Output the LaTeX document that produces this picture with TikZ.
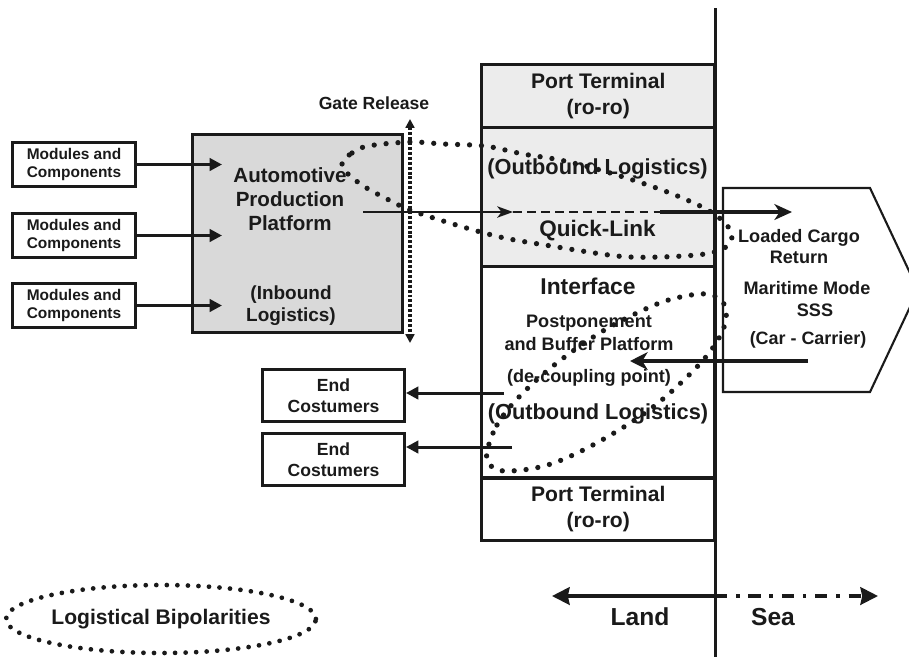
\documentclass[tikz,border=0pt]{standalone}
\usepackage{fontspec}
\setmainfont{Liberation Sans}
\usetikzlibrary{arrows.meta,positioning,shapes.geometric}
\definecolor{platgray}{HTML}{D9D9D9}
\definecolor{portgray}{HTML}{ECECEC}
\definecolor{ink}{HTML}{1A1A1A}

\begin{document}
\begin{tikzpicture}[x=0.02cm,y=-0.02cm,
  modbox/.style={draw=ink,line width=1.7pt,minimum width=2.46cm,minimum height=0.88cm,
    inner sep=0pt,align=center,text=ink,font=\fontsize{8.8}{10.2}\selectfont\bfseries},
  endbox/.style={draw=ink,line width=1.7pt,minimum width=2.84cm,minimum height=1.04cm,
    inner sep=0pt,align=center,text=ink,font=\fontsize{10}{11.7}\selectfont\bfseries},
  colbox/.style={draw=ink,line width=1.7pt,minimum width=4.67cm,inner sep=0pt,outer sep=0pt,
    align=center,text=ink,font=\fontsize{12}{14.6}\selectfont\bfseries},
  txt/.style={inner sep=0pt,align=center,text=ink,font=\bfseries},
  arr/.style={-{Triangle[length=7pt,width=7pt]},line width=1.7pt,ink},
  dotloop/.style={line width=3pt,line cap=round,dash pattern=on 0pt off 6.8pt,ink}]

\useasboundingbox (0,0) rectangle (909,657);
\clip (0,0) rectangle (909,657);

% inbound side
\node[modbox] (mod1) at (74,164.5) {Modules and\\Components};
\node[modbox] (mod2) at (74,235.5) {Modules and\\Components};
\node[modbox] (mod3) at (74,305.5) {Modules and\\Components};

\node[draw=ink,line width=1.7pt,fill=platgray,minimum width=4.20cm,minimum height=3.96cm]
  (plat) at (297.5,233.5) {};
\node[txt,font=\fontsize{11.7}{13.6}\selectfont\bfseries] (platname) at (290,199)
  {Automotive\\Production\\Platform};
\node[txt,font=\fontsize{10.8}{12.5}\selectfont\bfseries] (inbound) at (291,306)
  {(Inbound\\Logistics)};
\coordinate (platin) at (222,0);

\draw[arr] (mod1.east)--(mod1.east -| platin);
\draw[arr] (mod2.east)--(mod2.east -| platin);
\draw[arr] (mod3.east)--(mod3.east -| platin);

% gate release
\coordinate (gatetop) at (410,119);
\coordinate (gatebot) at (410,343);
\draw[{Triangle[length=5pt,width=5pt]}-{Triangle[length=5pt,width=5pt]},line width=2.2pt,
  dash pattern=on 1.7pt off 1.1pt,ink] (gatetop)--(gatebot);
\node[txt,font=\fontsize{10}{12}\selectfont\bfseries] (gate) at (374,103) {Gate Release};

% port column
\node[colbox,fill=portgray,minimum height=1.25cm] (porttop) at (598.25,95.75)
  {Port Terminal\\(ro-ro)};
\node[colbox,fill=portgray,minimum height=2.78cm] (quick) at (598.25,196.5) {};
\node[colbox,fill=white,minimum height=4.24cm] (iface) at (598.25,372) {};
\node[colbox,fill=white,minimum height=1.25cm] (portbot) at (598.25,509.25)
  {Port Terminal\\(ro-ro)};

\node[txt,font=\fontsize{12.4}{14}\selectfont\bfseries] (outup) at (597.5,169) {(Outbound Logistics)};
\node[txt,font=\fontsize{12.8}{14}\selectfont\bfseries] (qltxt) at (597.5,231) {Quick-Link};
\node[txt,font=\fontsize{13}{15}\selectfont\bfseries] (ifacetxt) at (588,286) {Interface};
\node[txt,font=\fontsize{10.3}{12.9}\selectfont\bfseries] (postpone) at (589,333)
  {Postponement\\and Buffer Platform};
\node[txt,font=\fontsize{10.3}{12.9}\selectfont\bfseries] (decoup) at (589,378) {(de-coupling point)};
\node[txt,font=\fontsize{12.4}{14}\selectfont\bfseries] (outlow) at (598,414) {(Outbound Logistics)};

% shore line
\coordinate (shoretop) at (715,8);
\coordinate (shorebot) at (715,657);
\draw[line width=1.7pt,ink] (shoretop)--(shorebot);

% maritime mode
\draw[line width=1.2pt,ink] (723,188)--(870,188)--(918,290)--(870,392)--(723,392)--cycle;
\node[txt,font=\fontsize{10.3}{11.9}\selectfont\bfseries] (cargo) at (799,246.5) {Loaded Cargo\\Return};
\node[txt,font=\fontsize{10.3}{12}\selectfont\bfseries] (mmode) at (807,288) {Maritime Mode};
\node[txt,font=\fontsize{10.3}{12}\selectfont\bfseries] (sss) at (815,310) {SSS};
\node[txt,font=\fontsize{10.2}{12}\selectfont\bfseries] (carrier) at (808,340) {(Car - Carrier)};

% end costumers
\node[endbox] (end1) at (333.5,395.5) {End\\Costumers};
\node[endbox] (end2) at (333.5,459.5) {End\\Costumers};
\coordinate (endout1) at (504,393);
\coordinate (endout2) at (512,447);
\draw[arr] (endout1)--(end1.east |- endout1);
\draw[arr] (endout2)--(end2.east |- endout2);

% sea return into the buffer platform
\coordinate (seaout) at (808,361);
\coordinate (seain) at (630,361);
\draw[-{Stealth[length=10pt,width=10pt,inset=3pt]},line width=2pt,ink] (seaout)--(seain);

% quick-link flow
\coordinate (qla) at (363,212);
\coordinate (qlb) at (513,212);
\coordinate (qlc) at (660,212);
\coordinate (qld) at (792,212);
\draw[-{Stealth[length=9pt,width=6.5pt,inset=2.5pt]},line width=1.1pt,ink] (qla)--(qlb);
\draw[line width=1.1pt,dash pattern=on 5pt off 3pt,ink] (qlb)--(qlc);
\draw[-{Stealth[length=10pt,width=9pt,inset=3pt]},line width=2pt,ink] (qlc)--(qld);

% logistical bipolarities
\draw[dotloop] plot[smooth cycle,tension=0.55] coordinates {
  (342,163) (352,153) (368,146) (410,142) (443,144) (485,146) (523,154) (560,160)
  (600,170) (642,183) (675,195) (706,209) (725,223) (732,236) (726,247) (705,254)
  (660,257) (617,256) (545,245) (500,237) (453,224) (410,210) (387,199) (365,187)
  (348,174)};
\draw[dotloop] plot[smooth cycle,tension=0.6] coordinates {
  (487,452) (497,425) (518,398) (553,366) (598,334) (639,312) (672,299) (707,294)
  (724,304) (725,324) (712,349) (688,376) (653,407) (614,433) (573,455) (540,467)
  (505,471) (490,465)};

% land / sea
\coordinate (landtip) at (552,596);
\coordinate (shoremid) at (715,596);
\coordinate (seatip) at (878,596);
\draw[{Stealth[length=10pt,width=10pt,inset=1pt]}-,line width=2pt,ink] (landtip)--(shoremid);
\draw[-{Stealth[length=10pt,width=10pt,inset=1pt]},line width=2pt,
  dash pattern=on 7pt off 5pt on 2pt off 5pt,ink] (shoremid)--(seatip);
\node[txt,font=\fontsize{14}{16}\selectfont\bfseries] (land) at (640,617) {Land};
\node[txt,font=\fontsize{14}{16}\selectfont\bfseries] (sea) at (773,617) {Sea};

% legend
\node[ellipse,dotloop,draw,line width=2.7pt,dash pattern=on 0pt off 6pt,
  minimum width=5.76cm,minimum height=1.36cm,inner sep=0pt,text=ink,
  font=\fontsize{12}{14}\selectfont\bfseries] (legend) at (161,619) {Logistical Bipolarities};
\end{tikzpicture}
\end{document}
